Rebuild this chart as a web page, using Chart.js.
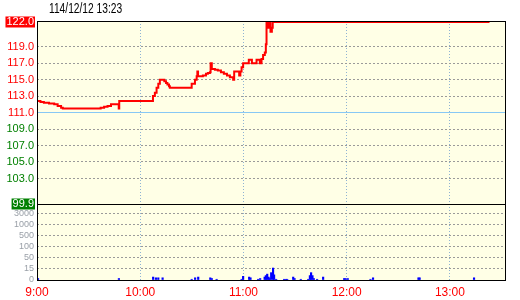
<!DOCTYPE html>
<html>
<head>
<meta charset="utf-8">
<script src="https://cdn.jsdelivr.net/npm/chart.js@4.4.1/dist/chart.umd.min.js"></script>
<style>
  body { margin: 0; background: #fff; }
  #wrap { position: relative; width: 520px; height: 300px; }
  #tick-chart { display: block; }
  #title {
    position: absolute; left: 49px; top: 0px;
    font: 14px "Liberation Sans", Arial, sans-serif;
    color: #000;
    transform: scaleX(0.73);
    transform-origin: left top;
    white-space: nowrap;
  }
</style>
</head>
<body>
<div id="wrap">
  <canvas id="tick-chart" width="520" height="300"></canvas>
  <div id="title">114/12/12 13:23</div>
</div>
<script>
// minutes after 9:00
const hourTicks = [0, 60, 120, 180, 240];
const hourLabels = ["9:00", "10:00", "11:00", "12:00", "13:00"];

const priceTicks = [122.0, 119.0, 117.0, 115.0, 113.0, 111.0, 109.0, 107.0, 105.0, 103.0, 99.9];
const prevClose = 111.0;

const volTicks = [0, 15, 50, 100, 500, 1000, 3000];

const priceTimes = [0, 2, 4, 7, 10, 12, 14, 15, 37, 39, 41, 43, 47.5, 47.8,
  67.4, 68.5, 69.5, 70.5, 71.4, 74, 75, 75.8, 76.7, 77.2,
  89.9, 91.8, 92.8, 93.2, 93.6, 96.4, 98.2, 99.3, 100.5, 100.9, 101.6,
  103.4, 105.1, 106.9, 108.6, 110.4, 112.1, 114, 114.6, 117.5, 118.2, 118.9, 119.8,
  123.1, 124.9, 127.6, 129.5, 130.5, 131.4, 132.4, 133, 133.4, 134.3, 135, 135.7, 136.5, 137, 263];
const prices = [112.4, 112.3, 112.2, 112.1, 112.0, 111.8, 111.6, 111.5, 111.6, 111.7, 111.8, 112.0, 111.5, 112.4,
  113.0, 113.4, 114.0, 114.5, 115.0, 114.8, 114.6, 114.4, 114.2, 114.0,
  114.5, 115.0, 115.4, 116.0, 115.4, 115.5, 115.7, 115.8, 115.9, 117.0, 116.3,
  116.2, 116.1, 115.9, 115.7, 115.5, 115.3, 115.0, 116.0, 115.5, 116.0, 116.5, 117.0,
  117.4, 117.0, 117.4, 117.0, 117.5, 118.0, 118.3, 119.3, 122.0, 121.3, 122.0, 120.8, 121.3, 122.0, 122.0];

const volTimes = [0.6, 47.6, 67.5, 69.1, 70.5, 73, 89.9, 91.9, 93.7, 100.7, 101.6, 104.4,
  118.9, 119.8, 123.3, 124.1, 128.5, 129.7, 132.3, 133, 133.8, 134.6, 135.2, 136.1, 137.2, 137.8, 139,
  143.6, 144.6, 145.4, 148.9, 149.7, 153.3, 157.6, 158.6, 159.3, 160.1, 160.9, 162.8, 166.3,
  178.5, 179.3, 180.6, 193.8, 195.3, 221.7, 222.4, 254];
const volumes = [2, 2, 4, 3, 3, 3, 1, 3, 4, 3, 2, 1,
  1, 5, 4, 3, 1, 2, 4, 6, 8, 4, 2, 10, 18, 7, 1,
  1, 1, 1, 4, 2, 1, 1, 6, 10, 6, 2, 1, 4,
  2, 2, 2, 1, 3, 3, 3, 3];

// volume axis is piecewise: each tick step gets the same height
const volPos = (v) => {
  for (let i = 1; i < volTicks.length; i++) {
    if (v <= volTicks[i]) {
      return i - 1 + (v - volTicks[i - 1]) / (volTicks[i] - volTicks[i - 1]);
    }
  }
  return volTicks.length - 1;
};

const Colors = {
  up: "#ff0000",
  down: "#008000",
  bg: "#ffffe6",
  grid: "#9a9a9a",
  vgrid: "#8fb3d3",
  ref: "#87c8f5",
  vol: "#0000ff",
  volText: "#9aa0a8",
};

Chart.defaults.font.family = `"Liberation Sans", Arial, sans-serif`;
Chart.defaults.font.size = 11;

const frame = {
  id: "frame",
  beforeDraw(chart) {
    const { ctx, chartArea: a } = chart;
    ctx.save();
    ctx.fillStyle = Colors.bg;
    ctx.fillRect(a.left, a.top, a.right - a.left, a.bottom - a.top);
    ctx.restore();
  },
  afterDatasetsDraw(chart) {
    const { ctx, chartArea: a } = chart;
    ctx.save();
    ctx.strokeStyle = "#000";
    ctx.lineWidth = 1;
    ctx.strokeRect(a.left + 0.5, a.top + 0.5, a.right - a.left, a.bottom - a.top);
    ctx.restore();
  },
};

const tickOf = (c) => (c.tick ? c.tick.value : null);

new Chart(document.getElementById("tick-chart"), {
  type: "line",
  plugins: [frame],
  data: {
    datasets: [
      {
        type: "line",
        data: priceTimes.map((t, i) => ({ x: t, y: prices[i] })),
        xAxisID: "x",
        yAxisID: "y",
        borderColor: Colors.up,
        borderWidth: 2,
        pointRadius: 0,
        stepped: true,
        fill: false,
      },
      {
        type: "bar",
        data: volTimes.map((t, i) => ({ x: t, y: volPos(volumes[i]) })),
        xAxisID: "x",
        yAxisID: "yv",
        backgroundColor: Colors.vol,
        borderWidth: 0,
        barThickness: 1.5,
        grouped: false,
      },
    ],
  },
  options: {
    responsive: false,
    animation: false,
    layout: { padding: { top: 21, right: 15, bottom: 0, left: 0 } },
    plugins: {
      legend: { display: false },
      tooltip: { enabled: false },
    },
    scales: {
      x: {
        type: "linear",
        min: 0,
        max: 272,
        offset: false,
        afterBuildTicks: (s) => { s.ticks = hourTicks.map((v) => ({ value: v })); },
        afterFit: (s) => { s.height = 20; },
        ticks: {
          color: Colors.up,
          padding: 5,
          maxRotation: 0,
          autoSkip: false,
          font: { size: 12 },
          callback: (v, i) => hourLabels[i],
        },
        grid: { color: Colors.vgrid, drawTicks: false, offset: false },
        border: { display: false, dash: [1, 2] },
      },
      yv: {
        type: "linear",
        position: "left",
        stack: "panel",
        stackWeight: 76,
        min: 0,
        max: 6.9,
        afterBuildTicks: (s) => { s.ticks = volTicks.map((v, i) => ({ value: i })); },
        afterFit: (s) => { s.width = 37; },
        ticks: {
          padding: 3,
          autoSkip: false,
          color: Colors.volText,
          font: { size: 9 },
          callback: (v) => String(volTicks[v]),
        },
        grid: {
          drawTicks: false,
          color: (c) => (tickOf(c) === 0 ? "rgba(0,0,0,0)" : Colors.grid),
        },
        border: { display: false, dash: [2, 2] },
      },
      y: {
        type: "linear",
        position: "left",
        stack: "panel",
        stackWeight: 183,
        min: 99.9,
        max: 122.12,
        afterBuildTicks: (s) => { s.ticks = priceTicks.map((v) => ({ value: v })); },
        afterFit: (s) => { s.width = 37; },
        ticks: {
          padding: 3,
          autoSkip: false,
          font: { size: 11, lineHeight: 1 },
          callback: (v) => v.toFixed(1),
          color: (c) => {
            const v = tickOf(c);
            if (v === 122 || v === 99.9) return "#ffffff";
            return v >= prevClose ? Colors.up : Colors.down;
          },
          showLabelBackdrop: (c) => tickOf(c) === 122 || tickOf(c) === 99.9,
          backdropColor: (c) => (tickOf(c) === 122 ? Colors.up : Colors.down),
          backdropPadding: { x: 1, y: 0 },
        },
        grid: {
          drawTicks: false,
          color: (c) => {
            const v = tickOf(c);
            if (v === 99.9) return "#000";
            if (v === prevClose) return Colors.ref;
            if (v === 122) return "rgba(0,0,0,0)";
            return Colors.grid;
          },
        },
        border: {
          display: false,
          dash: (c) => (tickOf(c) === prevClose || tickOf(c) === 99.9 ? [] : [2, 2]),
        },
      },
    },
  },
});
</script>
</body>
</html>
